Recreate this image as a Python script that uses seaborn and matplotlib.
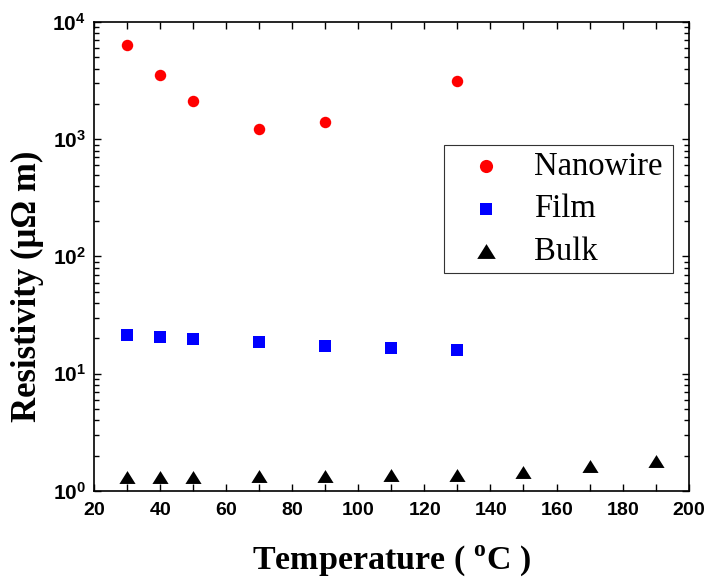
import numpy as np
import pandas as pd
import matplotlib
matplotlib.use("Agg")
import matplotlib.pyplot as plt
from matplotlib.ticker import FixedLocator, FuncFormatter, LogLocator, NullFormatter
import seaborn as sns

# Resistivity (μΩ m) versus temperature (°C)
nanowire_temp = [30, 40, 50, 70, 90, 130]
nanowire_rho = [6400, 3500, 2120, 1225, 1390, 3140]

film_temp = [30, 40, 50, 70, 90, 110, 130]
film_rho = [21.6, 20.5, 19.9, 18.5, 17.4, 16.5, 16.0]

bulk_temp = [30, 40, 50, 70, 90, 110, 130, 150, 170, 190]
bulk_rho = [1.31, 1.31, 1.32, 1.34, 1.35, 1.37, 1.37, 1.46, 1.63, 1.81]

x_ticks = [20, 40, 60, 80, 100, 120, 140, 160, 180, 200]
y_exponents = [0, 1, 2, 3, 4]

sns.set_theme(style="white")
plt.rcParams["font.family"] = ["Liberation Serif", "DejaVu Serif"]
plt.rcParams["mathtext.fontset"] = "custom"
plt.rcParams["mathtext.rm"] = "Liberation Serif:bold"
plt.rcParams["mathtext.bf"] = "Liberation Serif:bold"
plt.rcParams["mathtext.sf"] = "Liberation Sans:bold"
for key in ("text.color", "axes.labelcolor", "xtick.color", "ytick.color"):
    plt.rcParams[key] = "black"

fig = plt.figure(figsize=(7.08, 5.85), dpi=100)
ax = fig.add_axes([0.1328, 0.1607, 0.8399, 0.8017])

frames = [
    ("Nanowire", nanowire_temp, nanowire_rho),
    ("Film", film_temp, film_rho),
    ("Bulk", bulk_temp, bulk_rho),
]
df = pd.concat(
    [pd.DataFrame({"T": t, "rho": r, "kind": k}) for k, t, r in frames],
    ignore_index=True,
)

tri = [(0, 0.8), (-1, -0.8), (1, -0.8)]
styles = {
    "Nanowire": dict(color="#ff0000", marker="o", s=68),
    "Film": dict(color="#0000ff", marker="s", s=66),
    "Bulk": dict(color="#000000", marker=tri, s=135),
}
for kind, st in styles.items():
    sns.scatterplot(
        data=df[df["kind"] == kind], x="T", y="rho",
        color=st["color"], marker=st["marker"], s=st["s"],
        linewidth=0, label=kind, ax=ax, zorder=3,
    )

ax.set_yscale("log")
ax.set_xlim(20, 200)
ax.set_ylim(1, 1e4)

ax.xaxis.set_major_locator(FixedLocator(x_ticks))
ax.xaxis.set_minor_locator(FixedLocator(np.arange(30, 200, 20)))
ax.xaxis.set_major_formatter(FuncFormatter(lambda v, p: r"$\mathsf{%d}$" % v))
ax.yaxis.set_major_locator(FixedLocator([10.0 ** e for e in y_exponents]))
ax.yaxis.set_minor_locator(LogLocator(base=10, subs=np.arange(2, 10), numticks=20))
ax.yaxis.set_minor_formatter(NullFormatter())
ax.yaxis.set_major_formatter(
    FuncFormatter(lambda v, p: r"$\mathsf{10^{%d}}$" % int(round(np.log10(v))))
)

ax.tick_params(axis="both", which="both", direction="in",
               top=True, right=True, bottom=True, left=True,
               color="black", width=1.0)
ax.tick_params(axis="both", which="major", length=5)
ax.tick_params(axis="both", which="minor", length=3.5)
ax.tick_params(axis="x", which="minor", length=5)
ax.tick_params(axis="x", which="major", pad=8, labelsize=14)
ax.tick_params(axis="y", which="major", pad=6, labelsize=15)

for sp in ax.spines.values():
    sp.set_color("black")
    sp.set_linewidth(1.2)

ax.set_xlabel(r"Temperature ( $^{\mathrm{o}}$C )", fontsize=24.5,
              fontweight="bold", va="center")
ax.set_ylabel("Resistivity (μΩ m)", fontsize=25, fontweight="bold",
              va="center")
ax.xaxis.set_label_coords(0.5, -0.149)
ax.yaxis.set_label_coords(-0.1127, 0.436)

leg = ax.legend(
    loc="upper left", bbox_to_anchor=(0.5885, 0.4627, 0.3845, 0.275),
    mode="expand", fontsize=23.5, frameon=True, fancybox=False,
    framealpha=1, borderpad=0.2, labelspacing=0.36, handletextpad=0.35,
    handlelength=2.2, borderaxespad=0, markerscale=1.15,
)
leg.get_frame().set_edgecolor("#333333")
leg.get_frame().set_linewidth(0.8)

fig.savefig("out.png", dpi=100)
